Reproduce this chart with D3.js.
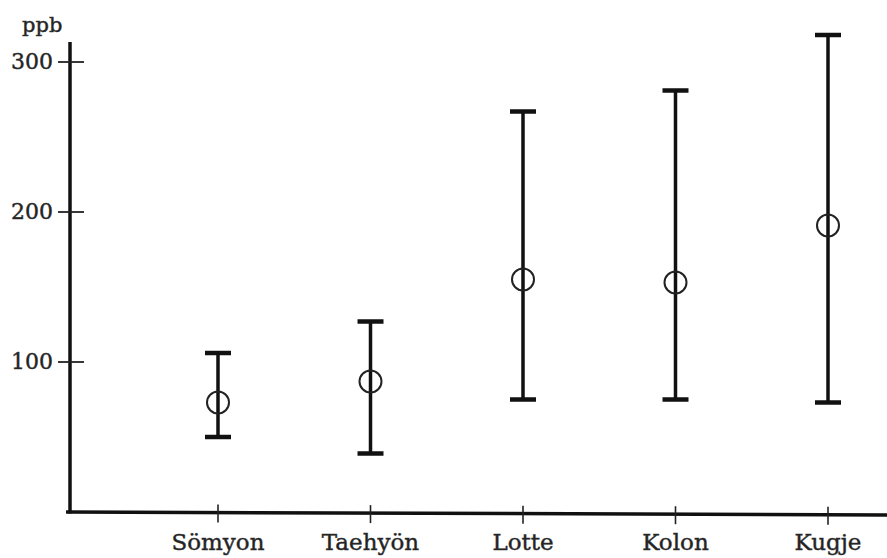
<!DOCTYPE html>
<html>
<head>
<meta charset="utf-8">
<script src="https://cdn.jsdelivr.net/npm/d3@7"></script>
<style>
  html, body { margin: 0; padding: 0; background: #fff; }
  svg { display: block; }
  text { font-family: "DejaVu Serif", serif; fill: #222; stroke: #333; stroke-width: 0.45px; }
</style>
</head>
<body>
<script>
const categories = ["Sömyon", "Taehyön", "Lotte", "Kolon", "Kugje"];
const means = [73, 87, 155, 153, 191];
const upper = [106, 127, 267, 281, 318];
const lower = [50, 39, 75, 75, 73];
const yTicks = [100, 200, 300];
const yUnit = "ppb";

const W = 887, H = 558;
const svg = d3.select("body").append("svg").attr("width", W).attr("height", H);

const y = d3.scaleLinear().domain([0, 300]).range([512, 62]);
const x = d3.scalePoint().domain(categories).range([218, 828]);
const axisX = 70;

// y axis line
svg.append("line")
  .attr("x1", axisX).attr("x2", axisX)
  .attr("y1", y(0) + 1.5).attr("y2", 42)
  .attr("stroke", "#111").attr("stroke-width", 3.5);

// x axis line
svg.append("line")
  .attr("x1", axisX - 4).attr("x2", W)
  .attr("y1", y(0)).attr("y2", y(0) + 3)
  .attr("stroke", "#111").attr("stroke-width", 3.5);

// y ticks
const yt = svg.append("g");
yTicks.forEach(v => {
  yt.append("line")
    .attr("x1", axisX - 12).attr("x2", axisX + 14)
    .attr("y1", y(v)).attr("y2", y(v))
    .attr("stroke", "#222").attr("stroke-width", 1.8);
  yt.append("text")
    .attr("x", axisX - 17).attr("y", y(v))
    .attr("dy", "0.32em")
    .attr("text-anchor", "end")
    .attr("font-size", 22)
    .text(v);
});

svg.append("text")
  .attr("x", 22).attr("y", 32)
  .attr("font-size", 21)
  .text(yUnit);

// x ticks and labels
const xt = svg.append("g");
categories.forEach((c, i) => {
  const cx = x(c);
  const off = (cx - axisX) / (W - axisX) * 3;
  xt.append("line")
    .attr("x1", cx).attr("x2", cx)
    .attr("y1", y(0) + off - 8).attr("y2", y(0) + off + 10)
    .attr("stroke", "#222").attr("stroke-width", 1.6);
  xt.append("text")
    .attr("x", cx).attr("y", 550)
    .attr("text-anchor", "middle")
    .attr("font-size", 23)
    .text(c);
});

// error bars
const g = svg.append("g");
categories.forEach((c, i) => {
  const cx = x(c);
  g.append("line")
    .attr("x1", cx).attr("x2", cx)
    .attr("y1", y(upper[i])).attr("y2", y(lower[i]))
    .attr("stroke", "#111").attr("stroke-width", 3.5);
  [upper[i], lower[i]].forEach(v => {
    g.append("line")
      .attr("x1", cx - 13).attr("x2", cx + 13)
      .attr("y1", y(v)).attr("y2", y(v))
      .attr("stroke", "#111").attr("stroke-width", 4.5);
  });
  g.append("circle")
    .attr("cx", cx).attr("cy", y(means[i]))
    .attr("r", 11)
    .attr("fill", "none")
    .attr("stroke", "#222").attr("stroke-width", 2);
});
</script>
</body>
</html>
